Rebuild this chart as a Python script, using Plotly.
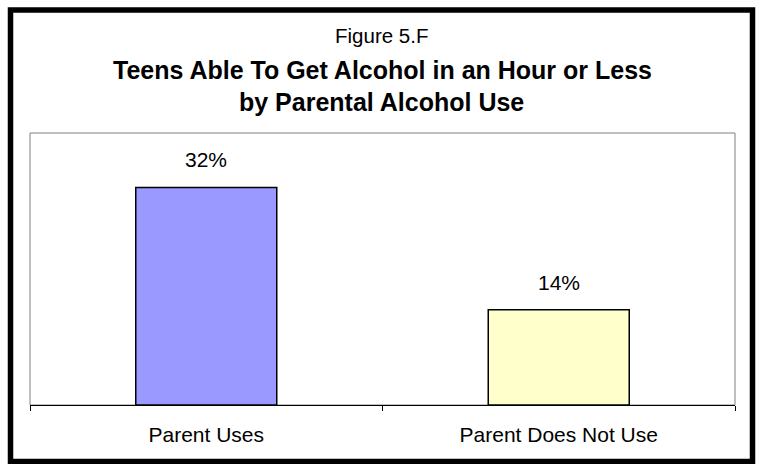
import plotly.graph_objects as go

# ---- data ----
categories = ["Parent Uses", "Parent Does Not Use"]
values = [32, 14]
value_labels = ["32%", "14%"]
bar_colors = ["#9999FF", "#FFFFCC"]

fig_label = "Figure 5.F"
title_line1 = "Teens Able To Get Alcohol in an Hour or Less"
title_line2 = "by Parental Alcohol Use"

W, H = 762, 464
L, R, T, B = 30, 27, 133, 59
PW, PH = W - L - R, H - T - B


def px2x(px):
    return (px - L) / PW


def py2y(py):
    return (H - B - py) / PH


FONT = "Arial, Liberation Sans, sans-serif"

fig = go.Figure()
fig.add_trace(go.Bar(
    x=categories,
    y=values,
    marker=dict(color=bar_colors, line=dict(color="black", width=1.5)),
    width=0.4,
    hoverinfo="skip",
))

annotations = []
for c, v, t in zip(categories, values, value_labels):
    annotations.append(dict(
        x=c, y=v, xref="x", yref="y", text=t, showarrow=False,
        yanchor="bottom", yshift=14,
        font=dict(family=FONT, size=21, color="black"),
    ))

annotations.append(dict(
    x=px2x(381), y=py2y(36), xref="paper", yref="paper", text=fig_label,
    showarrow=False, xanchor="center", yanchor="middle",
    font=dict(family=FONT, size=20.5, color="black"),
))
annotations.append(dict(
    x=px2x(383), y=py2y(70), xref="paper", yref="paper", text="<b>" + title_line1 + "</b>",
    showarrow=False, xanchor="center", yanchor="middle",
    font=dict(family=FONT, size=25, color="black"),
))
annotations.append(dict(
    x=px2x(381), y=py2y(102), xref="paper", yref="paper", text="<b>" + title_line2 + "</b>",
    showarrow=False, xanchor="center", yanchor="middle",
    font=dict(family=FONT, size=25, color="black"),
))

shapes = [
    # plot area border (gray)
    dict(type="rect", xref="paper", yref="paper", x0=0, x1=1, y0=0, y1=1,
         line=dict(color="#808080", width=1), layer="below"),
    # outer chart frame (thick black)
    dict(type="rect", xref="paper", yref="paper",
         x0=px2x(10.5), x1=px2x(752.5), y0=py2y(461.5), y1=py2y(10),
         line=dict(color="black", width=5.5), layer="above"),
]

fig.update_layout(
    width=W, height=H,
    margin=dict(l=L, r=R, t=T, b=B, pad=0),
    paper_bgcolor="white", plot_bgcolor="white",
    showlegend=False,
    bargap=0.6,
    annotations=annotations,
    shapes=shapes,
    font=dict(family=FONT, color="black"),
    xaxis=dict(
        type="category", range=[-0.5, 1.5],
        showline=True, linecolor="black", linewidth=1,
        ticks="outside", tickson="boundaries", ticklen=5, tickcolor="black", tickwidth=1,
        ticklabelstandoff=11,
        tickfont=dict(family=FONT, size=21, color="black"),
        showgrid=False, zeroline=False, fixedrange=True,
    ),
    yaxis=dict(
        range=[0, 40], showticklabels=False, ticks="", showgrid=False,
        zeroline=False, showline=False, fixedrange=True,
    ),
)

fig.write_html(
    "out.html",
    config={"displayModeBar": False},
    post_script="document.body.style.margin='0';",
)
